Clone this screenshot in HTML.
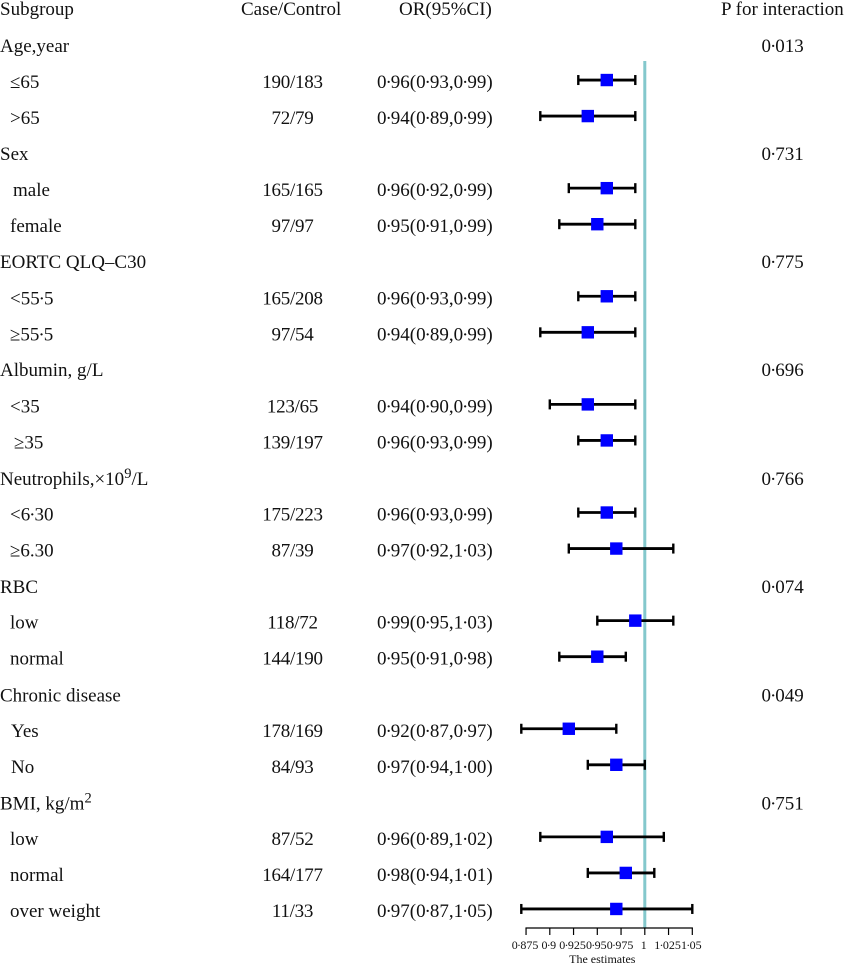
<!DOCTYPE html>
<html>
<head>
<meta charset="utf-8">
<title>Forest plot</title>
<style>
html,body{margin:0;padding:0;background:#fff;width:845px;height:966px;overflow:hidden}
svg{display:block}
text{font-family:"Liberation Serif",serif;font-size:19px;fill:#111}
.small{font-size:12px}
.cc{letter-spacing:-0.25px}
</style>
</head>
<body>
<svg id="chart" width="845" height="966" viewBox="0 0 845 966">
  <text x="0" y="15">Subgroup</text>
  <text x="241" y="15">Case/Control</text>
  <text x="399" y="15">OR(95%CI)</text>
  <text x="721" y="15">P for interaction</text>

  <text x="0" y="52">Age,year</text>
  <text x="0" y="160">Sex</text>
  <text x="0" y="268">EORTC QLQ–C30</text>
  <text x="0" y="376">Albumin, g/L</text>
  <text x="0" y="485">Neutrophils,×10<tspan font-size="14.5" dy="-7">9</tspan><tspan dy="7">/L</tspan></text>
  <text x="0" y="593">RBC</text>
  <text x="0" y="701.500">Chronic disease</text>
  <text x="0" y="809.500">BMI, kg/m<tspan font-size="14.5" dy="-7">2</tspan></text>

  <text x="761.500" y="52">0·013</text>
  <text x="761.500" y="160">0·731</text>
  <text x="761.500" y="268">0·775</text>
  <text x="761.500" y="376">0·696</text>
  <text x="761.500" y="485">0·766</text>
  <text x="761.500" y="593">0·074</text>
  <text x="761.500" y="701.500">0·049</text>
  <text x="761.500" y="809.500">0·751</text>

  <text class="small" x="602.300" y="963" text-anchor="middle">The estimates</text>
</svg>
<script>
const subgroups = ["≤65", ">65", "male", "female", "<55·5", "≥55·5", "<35", "≥35", "<6·30", "≥6.30", "low", "normal", "Yes", "No", "low", "normal", "over weight"];
const caseControl = ["190/183", "72/79", "165/165", "97/97", "165/208", "97/54", "123/65", "139/197", "175/223", "87/39", "118/72", "144/190", "178/169", "84/93", "87/52", "164/177", "11/33"];
const estimates = [0.96, 0.94, 0.96, 0.95, 0.96, 0.94, 0.94, 0.96, 0.96, 0.97, 0.99, 0.95, 0.92, 0.97, 0.96, 0.98, 0.97];
const ciLower = [0.93, 0.89, 0.92, 0.91, 0.93, 0.89, 0.90, 0.93, 0.93, 0.92, 0.95, 0.91, 0.87, 0.94, 0.89, 0.94, 0.87];
const ciUpper = [0.99, 0.99, 0.99, 0.99, 0.99, 0.99, 0.99, 0.99, 0.99, 1.03, 1.03, 0.98, 0.97, 1.00, 1.02, 1.01, 1.05];
const rowNumbers = [1, 2, 4, 5, 7, 8, 10, 11, 13, 14, 16, 17, 19, 20, 22, 23, 24];
const tickValues = [0.875, 0.9, 0.925, 0.95, 0.975, 1, 1.025, 1.05];
const tickLabels = ["0·875", "0·9", "0·925", "0·95", "0·975", "1", "1·025", "1·05"];
const referenceValue = 1;

const svg = document.getElementById('chart');
const NS = 'http://www.w3.org/2000/svg';
function xScale(v) { return 644.8 + (v - 1) * 950; }
function markY(row) { return 44 + 36.04 * row; }
function textY(row) { return 52 + 36.04 * row; }
function fmt(v) { return v.toFixed(2).replace('.', '·'); }
function make(tag) { return document.createElementNS(NS, tag); }
function slug(s) { return s.replace(/≤/g, 'le-').replace(/≥/g, 'ge-').replace(/</g, 'lt-').replace(/>/g, 'gt-').replace(/[·.]/g, '-').replace(/\s+/g, '-'); }
function setLine(el, x1, y1, x2, y2, stroke, width) {
  el.setAttribute('x1', x1);
  el.setAttribute('y1', y1);
  el.setAttribute('x2', x2);
  el.setAttribute('y2', y2);
  el.setAttribute('stroke', stroke);
  el.setAttribute('stroke-width', width);
}
const labelX = [10, 10, 13, 10, 10, 10, 10, 14, 10, 10, 10, 10, 11, 11, 10, 10, 10];

const refLine = make('line');
setLine(refLine, xScale(referenceValue), 61, xScale(referenceValue), 928, '#84c8cc', 3);


svg.appendChild(refLine);

subgroups.forEach(function (name, i) {
  const row = rowNumbers[i];
  const tag = slug(name) + '-' + i;

  const label = make('text');
  label.setAttribute('x', labelX[i]);
  label.setAttribute('y', textY(row));
  label.textContent = name;
  
  
  svg.appendChild(label);

  const cc = make('text');
  cc.setAttribute('class', 'cc');
  cc.setAttribute('x', 292.5);
  cc.setAttribute('y', textY(row));
  cc.setAttribute('text-anchor', 'middle');
  cc.textContent = caseControl[i];
  
  
  svg.appendChild(cc);

  const or = make('text');
  or.setAttribute('x', 377);
  or.setAttribute('y', textY(row));
  or.textContent = fmt(estimates[i]) + '(' + fmt(ciLower[i]) + ',' + fmt(ciUpper[i]) + ')';
  
  
  svg.appendChild(or);

  const y = markY(row);
  const lo = xScale(ciLower[i]);
  const hi = xScale(ciUpper[i]);
  const mid = xScale(estimates[i]);

  const ci = make('line');
  setLine(ci, lo, y, hi, y, '#000', 2.8);
  
  
  svg.appendChild(ci);

  const capLo = make('line');
  setLine(capLo, lo, y - 5, lo, y + 5, '#000', 2.4);
  
  
  svg.appendChild(capLo);

  const capHi = make('line');
  setLine(capHi, hi, y - 5, hi, y + 5, '#000', 2.4);
  
  
  svg.appendChild(capHi);

  const sq = make('rect');
  sq.setAttribute('x', mid - 6.2);
  sq.setAttribute('y', y - 6.2);
  sq.setAttribute('width', 12.4);
  sq.setAttribute('height', 12.4);
  sq.setAttribute('fill', '#0000ff');
  
  
  svg.appendChild(sq);
});

const axis = make('line');
setLine(axis, xScale(tickValues[0]) - 0.6, 928, xScale(tickValues[tickValues.length - 1]) + 0.6, 928, '#000', 1.2);


svg.appendChild(axis);

tickValues.forEach(function (v, i) {
  const tick = make('line');
  setLine(tick, xScale(v), 928, xScale(v), 935, '#000', 1.2);
  
  
  svg.appendChild(tick);

  const t = make('text');
  t.setAttribute('class', 'small');
  t.setAttribute('x', xScale(v) - 1);
  t.setAttribute('y', 949);
  t.setAttribute('text-anchor', 'middle');
  t.textContent = tickLabels[i];
  
  
  svg.appendChild(t);
});

/* The reference's middle dot is narrower than Liberation's: tighten its advance. */
svg.querySelectorAll('text').forEach(function (textEl) {
  const size = parseFloat(getComputedStyle(textEl).fontSize);
  Array.from(textEl.childNodes).forEach(function (node) {
    if (node.nodeType !== 3 || node.nodeValue.indexOf('·') < 0) return;
    const parts = node.nodeValue.split('·');
    const frag = document.createDocumentFragment();
    parts.forEach(function (part, k) {
      if (k > 0) {
        const dot = make('tspan');
        dot.setAttribute('dx', (-0.055 * size).toFixed(2));
        dot.setAttribute('style', 'letter-spacing:' + (-0.055 * size).toFixed(2) + 'px');
        dot.textContent = '·';
        
        
        frag.appendChild(dot);
      }
      if (part) frag.appendChild(document.createTextNode(part));
    });
    textEl.replaceChild(frag, node);
  });
});
</script>
</body>
</html>
